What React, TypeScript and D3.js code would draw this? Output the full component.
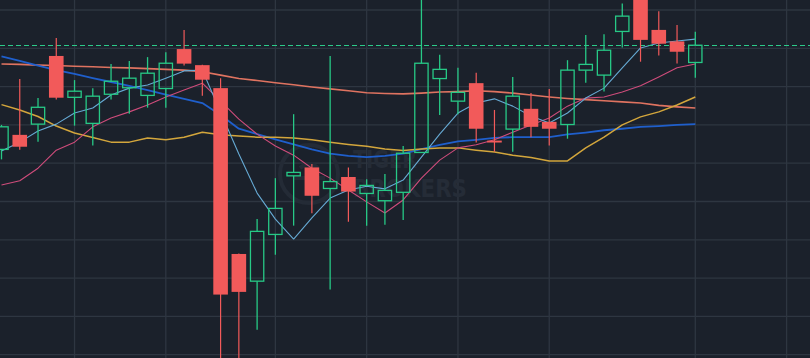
import React from "react";
import * as d3 from "d3";

const W = 810;
const H = 358;

// OHLC per session (price units)
const openP = [24.36, 24.74, 25.02, 26.8, 25.72, 25.04, 25.8, 25.97, 25.77, 25.95, 26.98, 26.56, 25.96, 21.63, 20.92, 22.14, 23.67, 23.89, 23.34, 23.64, 23.21, 23.02, 23.24, 24.28, 26.21, 25.62, 26.09, 24.59, 24.89, 25.42, 25.08, 25.01, 26.43, 26.3, 27.44, 28.42, 27.48, 27.18, 26.63];
const highP = [25.0, 26.2, 25.7, 27.27, 26.17, 25.96, 26.59, 26.67, 26.77, 26.9, 27.48, 26.57, 26.22, 21.64, 22.54, 23.61, 25.28, 23.98, 26.8, 23.89, 23.58, 23.72, 24.45, 28.52, 26.83, 26.49, 26.36, 25.39, 26.25, 25.83, 25.94, 26.69, 27.35, 27.37, 28.17, 28.63, 27.97, 27.61, 27.43];
const lowP = [24.1, 24.35, 24.56, 25.66, 24.98, 24.46, 25.66, 25.29, 25.45, 25.45, 26.55, 25.76, 18.6, 18.75, 19.65, 21.61, 22.37, 22.69, 20.7, 22.47, 22.37, 22.39, 22.52, 24.27, 25.26, 25.28, 24.54, 24.3, 24.3, 24.68, 24.46, 24.64, 26.1, 25.87, 27.02, 26.65, 26.81, 26.6, 26.23];
const closeP = [24.95, 24.43, 25.46, 25.71, 25.88, 25.75, 26.14, 26.22, 26.35, 26.61, 26.6, 26.18, 20.57, 20.64, 22.22, 22.82, 23.76, 23.15, 23.52, 23.26, 23.42, 23.29, 24.26, 26.61, 26.45, 25.85, 24.9, 24.54, 25.75, 24.95, 24.9, 26.43, 26.58, 26.95, 27.84, 27.22, 27.12, 26.91, 27.08];

// Moving averages
const ma5 = [24.32, 24.55, 24.84, 25.02, 25.31, 25.44, 25.78, 25.96, 26.04, 26.22, 26.41, 26.43, 25.33, 24.24, 23.22, 22.54, 22.02, 22.57, 23.09, 23.3, 23.4, 23.33, 23.56, 24.16, 24.76, 25.31, 25.57, 25.68, 25.49, 25.23, 25.05, 25.31, 25.7, 25.96, 26.49, 27.01, 27.14, 27.19, 27.24];
const ma10 = [23.43, 23.54, 23.87, 24.34, 24.55, 24.95, 25.18, 25.34, 25.52, 25.73, 25.91, 26.09, 25.62, 25.15, 24.76, 24.45, 24.21, 23.87, 23.61, 23.3, 22.99, 22.7, 23.04, 23.61, 24.08, 24.4, 24.48, 24.61, 24.81, 25.0, 25.18, 25.49, 25.7, 25.73, 25.86, 26.02, 26.25, 26.49, 26.59];
const ma20 = [25.53, 25.39, 25.22, 24.97, 24.79, 24.67, 24.55, 24.55, 24.66, 24.61, 24.68, 24.81, 24.74, 24.71, 24.68, 24.68, 24.66, 24.61, 24.55, 24.49, 24.44, 24.37, 24.33, 24.37, 24.4, 24.4, 24.34, 24.29, 24.21, 24.15, 24.06, 24.06, 24.4, 24.68, 25.0, 25.21, 25.34, 25.52, 25.73];
const ma30 = [26.79, 26.67, 26.55, 26.43, 26.33, 26.22, 26.12, 26.02, 25.91, 25.79, 25.68, 25.57, 25.26, 24.9, 24.76, 24.62, 24.49, 24.36, 24.25, 24.19, 24.16, 24.19, 24.25, 24.37, 24.48, 24.57, 24.61, 24.66, 24.68, 24.68, 24.68, 24.75, 24.8, 24.86, 24.9, 24.95, 24.97, 25.0, 25.02];
const ma60 = [26.59, 26.58, 26.56, 26.55, 26.53, 26.52, 26.5, 26.49, 26.47, 26.45, 26.43, 26.39, 26.3, 26.21, 26.16, 26.1, 26.05, 25.99, 25.94, 25.89, 25.84, 25.82, 25.81, 25.83, 25.86, 25.87, 25.89, 25.87, 25.83, 25.78, 25.73, 25.69, 25.66, 25.63, 25.6, 25.57, 25.51, 25.47, 25.44];

const priceTicks = [19, 20, 21, 22, 23, 24, 25, 26, 27, 28];
const gridSessions = [4, 9, 15, 20, 25, 30, 38, 43];
const lastPrice = 27.08;

const BG = "#1b212b";
const GRID = "#2e3641";
const UP = "#27c986";
const DOWN = "#f25a5a";

export default function App() {
  const n = closeP.length;
  const x = d3.scaleLinear().domain([0, n - 1]).range([1.5, 695.3]);
  const y = d3.scaleLinear().domain([19, 28]).range([354.7, 10]);
  const bw = (x(1) - x(0)) * 0.8;

  const mkLine = (arr: number[]) =>
    d3.line<number>().x((_, i) => x(i)).y((d) => y(d))(arr) || "";

  const maDefs = [
    { data: ma60, color: "#df7360", w: 1.6 },
    { data: ma30, color: "#1f5fcc", w: 1.8 },
    { data: ma20, color: "#d3a63c", w: 1.5 },
    { data: ma10, color: "#cf4c7b", w: 1.1 },
    { data: ma5, color: "#66aad4", w: 1.1 },
  ];

  const lastY = Math.round(y(lastPrice)) + 0.5;

  return (
    <svg
      width={W}
      height={H}
      style={{ position: "fixed", left: 0, top: 0, display: "block", overflow: "hidden" }}
    >
      <rect x={0} y={0} width={W} height={H} fill={BG} />
      {priceTicks.map((p) => (
        <line key={"h" + p} x1={0} x2={W} y1={y(p)} y2={y(p)} stroke={GRID} strokeWidth={1.3} />
      ))}
      {gridSessions.map((s) => (
        <line key={"v" + s} x1={x(s)} x2={x(s)} y1={0} y2={H} stroke={GRID} strokeWidth={1.3} />
      ))}

      {/* watermark */}
      <g fill="none" stroke="#242b36" strokeWidth={4}>
        <circle cx={309} cy={174} r={29} />
        <path d="M293 178 L325 178 M309 178 L309 196 M300 168 Q309 160 318 168" />
      </g>
      <g fill="#252c37" fontFamily="'DejaVu Sans', sans-serif" fontWeight={700}>
        <text x={353} y={168} fontSize={24} textLength={64} lengthAdjust="spacingAndGlyphs">TIGER</text>
        <text x={353} y={197} fontSize={24} textLength={114} lengthAdjust="spacingAndGlyphs">BROKERS</text>
      </g>

      {maDefs.map((m, k) => (
        <path key={"ma" + k} d={mkLine(m.data)} fill="none" stroke={m.color} strokeWidth={m.w} strokeLinejoin="round" />
      ))}

      <line x1={0} x2={W} y1={lastY} y2={lastY} stroke="#2ccb8a" strokeWidth={1} strokeDasharray="5,3" />

      {closeP.map((c, i) => {
        const o = openP[i];
        const up = c >= o;
        const cx = x(i);
        const top = y(Math.max(o, c));
        const bot = y(Math.min(o, c));
        const hi = y(highP[i]);
        const lo = y(lowP[i]);
        if (up) {
          return (
            <g key={"c" + i} stroke={UP} strokeWidth={1.3}>
              <line x1={cx} x2={cx} y1={hi} y2={top} />
              <line x1={cx} x2={cx} y1={bot} y2={lo} />
              <rect x={cx - bw / 2 + 0.65} y={top} width={bw - 1.3} height={Math.max(bot - top, 1)} fill="none" />
            </g>
          );
        }
        return (
          <g key={"c" + i}>
            <line x1={cx} x2={cx} y1={hi} y2={lo} stroke={DOWN} strokeWidth={1.2} />
            <rect x={cx - bw / 2} y={top} width={bw} height={Math.max(bot - top, 1.5)} fill={DOWN} />
          </g>
        );
      })}
    </svg>
  );
}
